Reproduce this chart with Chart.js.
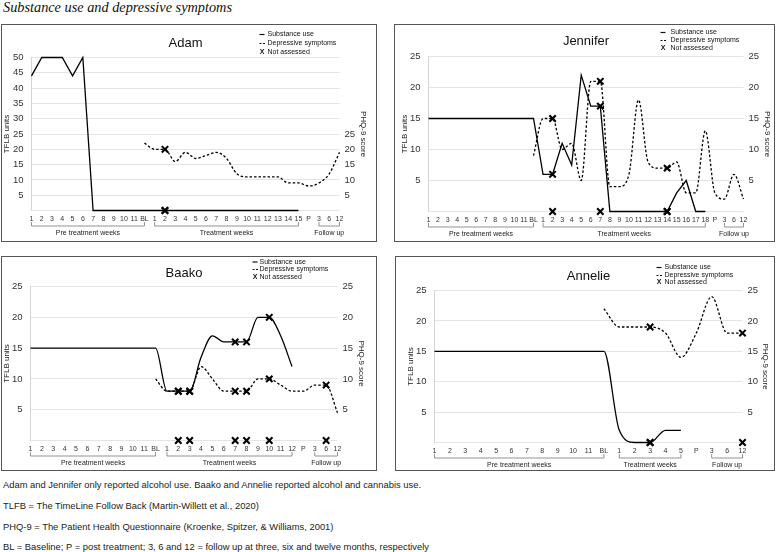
<!DOCTYPE html>
<html>
<head>
<meta charset="utf-8">
<script src="https://cdn.jsdelivr.net/npm/chart.js@4.4.1/dist/chart.umd.min.js"></script>
<style>
  body { margin: 0; background: #fff; width: 778px; height: 552px; overflow: hidden; position: relative;
         font-family: "Liberation Sans", Arial, sans-serif; color: #222; }
  #title { position: absolute; left: 3px; top: -1px; font: italic 14.3px "Liberation Serif", "Times New Roman", serif; color: #111; }
  .panel { position: absolute; border: 1.5px solid #555; }
  .panel canvas { display: block; }
  .note { position: absolute; left: 3px; font-size: 9.4px; line-height: 11px; white-space: nowrap; color: #222; }
</style>
</head>
<body>
<div id="title">Substance use and depressive symptoms</div>

<div class="panel" style="left:1px;top:24px;width:374px;height:216px"><canvas id="adam" width="374" height="216"></canvas></div>
<div class="panel" style="left:394px;top:24px;width:379px;height:216px"><canvas id="jennifer" width="379" height="216"></canvas></div>
<div class="panel" style="left:1px;top:256px;width:374px;height:213px"><canvas id="baako" width="374" height="213"></canvas></div>
<div class="panel" style="left:395px;top:256px;width:378px;height:213px"><canvas id="annelie" width="378" height="213"></canvas></div>

<div class="note" style="top:479px">Adam and Jennifer only reported alcohol use. Baako and Annelie reported alcohol and cannabis use.</div>
<div class="note" style="top:500px">TLFB = The TimeLine Follow Back (Martin-Willett et al., 2020)</div>
<div class="note" style="top:521px">PHQ-9 = The Patient Health Questionnaire (Kroenke, Spitzer, &amp; Williams, 2001)</div>
<div class="note" style="top:541px">BL = Baseline; P = post treatment; 3, 6 and 12 = follow up at three, six and twelve months, respectively</div>

<script>
Chart.defaults.font.family = '"Liberation Sans", Arial, sans-serif';
Chart.defaults.color = "#333";

// ---- Adam ----
const adamLabels = ["1","2","3","4","5","6","7","8","9","10","11","BL",
  "1","2","3","4","5","6","7","8","9","10","11","12","13","14","15","P","3","6","12"];
const adamSubstance = [44,50,50,50,44,50,0,0,0,0,0,0,
  0,0,0,0,0,0,0,0,0,0,0,0,0,0,0,null,null,null,null];
const adamDepressive = [null,null,null,null,null,null,null,null,null,null,null,22,
  20,20,16,19,17,18,19,17,12,11,11,11,11,9,9,8,9,12,19];
const adamMissing = [13];

// ---- Jennifer ----
const jenLabels = ["1","2","3","4","5","6","7","8","9","10","11","BL",
  "1","2","3","4","5","6","7","8","9","10","11","12","13","14","15","16","17","18","P","3","6","12"];
const jenSubstance = [15,15,15,15,15,15,15,15,15,15,15,15,
  6,6,11,7.5,22,17,17,0,0,0,0,0,0,0,3,5,0,0,null,null,null,null];
const jenDepressive = [null,null,null,null,null,null,null,null,null,null,null,9,
  15,15,10,11,5,21,21,4,4,6,18,8,7,7,8,3,3,13,3,2,6,2];
const jenMissing = [13, 18, 25];

// ---- Baako ----
const baakoLabels = ["1","2","3","4","5","6","7","8","9","10","11","BL",
  "1","2","3","4","5","6","7","8","9","10","11","12","P","3","6","12"];
const baakoSubstance = [15,15,15,15,15,15,15,15,15,15,15,15,
  8,8,8,13.5,17,16,16,16,20,20,17,12,null,null,null,null];
const baakoDepressive = [null,null,null,null,null,null,null,null,null,null,null,10,
  8,8,8,12,10,8,8,8,10,10,9,8,8,9,9,4.5];
const baakoMissing = [13, 14, 18, 19, 21, 26];

// ---- Annelie ----
const annLabels = ["1","2","3","4","5","6","7","8","9","10","11","BL",
  "1","2","3","4","5","P","3","6","12"];
const annSubstance = [15,15,15,15,15,15,15,15,15,15,15,15,
  2,0,0,2,2,null,null,null,null];
const annDepressive = [null,null,null,null,null,null,null,null,null,null,null,22,
  19,19,19,18,14,18,24,18,18];
const annMissing = [14, 20];

const legendItems = ["Substance use", "Depressive symptoms", "Not assessed"];
const groupNames = ["Pre treatment weeks", "Treatment weeks", "Follow up"];

// titulo, leyenda y corchetes de grupo
function decor(p) {
  return {
    id: "decor",
    afterDraw(chart) {
      const { ctx, chartArea: a } = chart;
      const x = chart.scales.x;
      ctx.save();
      ctx.fillStyle = "#111";
      ctx.strokeStyle = "#111";
      ctx.textBaseline = "middle";

      ctx.font = '13px "Liberation Sans", Arial, sans-serif';
      ctx.textAlign = "center";
      ctx.fillText(p.name, (a.left + a.right) / 2, p.titleY);

      // leyenda
      ctx.font = '7px "Liberation Sans", Arial, sans-serif';
      ctx.textAlign = "left";
      ctx.lineWidth = 1.2;
      const [y0, y1, y2] = p.legendY;
      ctx.beginPath(); ctx.moveTo(p.legendX, y0); ctx.lineTo(p.legendX + 5, y0); ctx.stroke();
      ctx.setLineDash([2, 1.5]);
      ctx.beginPath(); ctx.moveTo(p.legendX, y1); ctx.lineTo(p.legendX + 6, y1); ctx.stroke();
      ctx.setLineDash([]);
      ctx.fillText(legendItems[0], p.textX, y0);
      ctx.fillText(legendItems[1], p.textX, y1);
      ctx.fillText(legendItems[2], p.textX, y2);
      ctx.font = 'bold 7px "Liberation Sans", Arial, sans-serif';
      ctx.textAlign = "center";
      ctx.fillText("X", p.legendX + 2.5, y2);

      // corchetes debajo del eje x
      const n = p.labels.length;
      const groups = [[0, 11], [12, n - 5], [n - 3, n - 1]];
      const yb = a.bottom + 15.5;
      ctx.strokeStyle = "#777";
      ctx.lineWidth = 0.8;
      ctx.fillStyle = "#222";
      ctx.font = '7px "Liberation Sans", Arial, sans-serif';
      groups.forEach(([s, e], i) => {
        const x1 = x.getPixelForValue(s), x2 = x.getPixelForValue(e);
        ctx.beginPath();
        ctx.moveTo(x1, yb - 4); ctx.lineTo(x1, yb); ctx.lineTo(x2, yb); ctx.lineTo(x2, yb - 4);
        ctx.stroke();
        ctx.fillText(groupNames[i], (x1 + x2) / 2, yb + 7);
      });
      ctx.restore();
    },
  };
}

function markerSet(data) {
  return {
    data,
    showLine: false,
    pointStyle: "crossRot",
    pointRadius: 4.5,
    pointBorderWidth: 2.1,
    pointBorderColor: "#000",
    pointBackgroundColor: "#000",
    borderColor: "#000",
    yAxisID: "y",
    clip: false,
  };
}

function makePanel(id, p) {
  const at = (arr) => p.labels.map((_, i) => (p.missing.includes(i) ? arr[i] : null));
  const onZero = p.labels.map((_, i) => (p.missing.includes(i) ? 0 : null));

  new Chart(document.getElementById(id), {
    type: "line",
    data: {
      labels: p.labels,
      datasets: [
        { label: "Substance use", data: p.substance, borderColor: "#000", borderWidth: 1.3,
          pointRadius: 0, cubicInterpolationMode: p.subSmooth ? "monotone" : "default",
          tension: 0, yAxisID: "y", clip: 2 },
        { label: "Depressive symptoms", data: p.depressive, borderColor: "#000", borderWidth: 1.3,
          borderDash: [2.5, 2], pointRadius: 0, cubicInterpolationMode: "monotone",
          yAxisID: "y2", clip: 2 },
        markerSet(at(p.depressive)),
        markerSet(at(p.substance)),
        markerSet(onZero),
      ],
    },
    options: {
      responsive: false,
      animation: false,
      events: [],
      layout: { padding: { top: p.top, left: 0, right: 0, bottom: 0 } },
      plugins: { legend: { display: false }, tooltip: { enabled: false } },
      scales: {
        x: {
          grid: { display: false, drawTicks: false },
          border: { display: false },
          ticks: { autoSkip: false, maxRotation: 0, font: { size: 7 }, color: "#333", padding: 4 },
          afterFit: (s) => { s.height = p.xH; },
        },
        y: {
          position: "left",
          min: 0, max: p.max,
          grid: { color: "#e4e4e4", drawTicks: false },
          border: { color: "#d4d4d4" },
          ticks: { stepSize: 5, font: { size: 9.5 }, color: "#333", padding: 8,
                   callback: (v) => (v === 0 ? "" : v) },
          title: { display: true, text: "TFLB units", font: { size: 8 }, color: "#222", padding: p.leftPad },
          afterFit: (s) => { s.width = p.left; },
        },
        y2: {
          position: "right",
          min: 0, max: p.max,
          grid: { display: false, drawTicks: false },
          border: { display: false },
          ticks: { stepSize: 5, font: { size: 9.5 }, color: "#333", padding: 5,
                   callback: (v) => (v === 0 || v > 25 ? "" : v) },
          title: { display: true, text: "PHQ-9 score", font: { size: 8 }, color: "#222", padding: p.rightPad },
          afterFit: (s) => { s.width = p.right; },
        },
      },
    },
    plugins: [decor(p)],
  });
}

makePanel("adam", {
  name: "Adam", labels: adamLabels, substance: adamSubstance, depressive: adamDepressive,
  missing: adamMissing, max: 50, subSmooth: false,
  left: 29.5, right: 36.5, top: 32.5, xH: 30.5, leftPad: 0, rightPad: 7.7,
  titleY: 18.5, legendX: 257.5, textX: 265.5, legendY: [9.5, 18.5, 27.5],
});
makePanel("jennifer", {
  name: "Jennifer", labels: jenLabels, substance: jenSubstance, depressive: jenDepressive,
  missing: jenMissing, max: 25, subSmooth: false,
  left: 33.5, right: 30.5, top: 31.5, xH: 29.5, leftPad: 4.7, rightPad: 1.7,
  titleY: 16.5, legendX: 265.5, textX: 275.5, legendY: [7.5, 15.5, 23.5],
});
makePanel("baako", {
  name: "Baako", labels: baakoLabels, substance: baakoSubstance, depressive: baakoDepressive,
  missing: baakoMissing, max: 25, subSmooth: true,
  left: 28.5, right: 38.5, top: 29.5, xH: 29.5, leftPad: 0, rightPad: 9.7,
  titleY: 16.5, legendX: 250.5, textX: 257.5, legendY: [5, 12.5, 20],
});
makePanel("annelie", {
  name: "Annelie", labels: annLabels, substance: annSubstance, depressive: annDepressive,
  missing: annMissing, max: 25, subSmooth: true,
  left: 38.5, right: 31.5, top: 33.5, xH: 27.5, leftPad: 9.7, rightPad: 3.7,
  titleY: 19.5, legendX: 260.5, textX: 268.5, legendY: [10.5, 18.5, 25.5],
});
</script>
</body>
</html>
